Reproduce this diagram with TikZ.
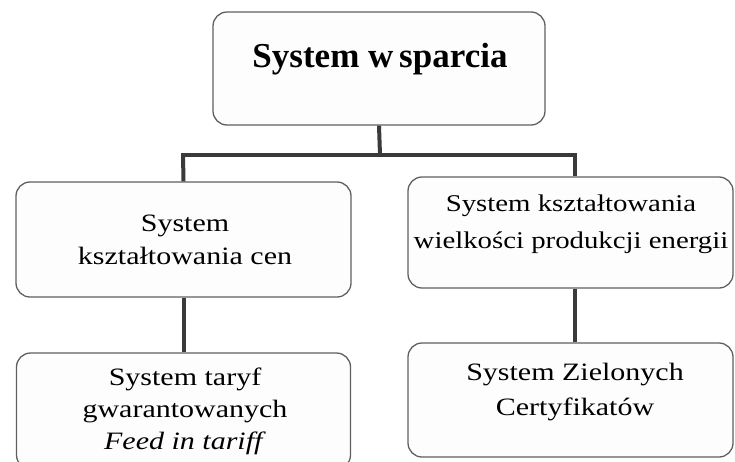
\documentclass[tikz,border=0pt]{standalone}
\usepackage{fontspec}
\setmainfont{Liberation Serif}[FakeStretch=1.2]
\newfontfamily\titlefont{Liberation Serif}
\definecolor{boxline}{HTML}{606060}
\definecolor{boxfill}{HTML}{FDFDFD}
\definecolor{linkc}{HTML}{3A3A3A}
\begin{document}
\begin{tikzpicture}[x=1pt,y=-1pt,
  box/.style={draw=boxline, fill=boxfill, line width=1.3pt, rounded corners=14pt, inner sep=0pt},
  txt/.style={inner sep=0pt, align=center, anchor=north, text=black},
  link/.style={draw=linkc, line width=4pt}]
\useasboundingbox (0,0) rectangle (735,461);
\clip (0,0) rectangle (735,461);
\coordinate (j) at (380,155);
\coordinate (jl) at (183,155);
\coordinate (jr) at (575,155);
% boxes
\node[box, minimum width=332pt, minimum height=113pt] (top) at (379,68.5) {};
\node[box, minimum width=335pt, minimum height=115pt] (lm) at (183.5,239.5) {};
\node[box, minimum width=325pt, minimum height=111pt] (rm) at (570.5,232.5) {};
\node[box, minimum width=334pt, minimum height=116pt] (lb) at (183.5,411) {};
\node[box, minimum width=325pt, minimum height=114pt] (rb) at (570.5,400) {};
% links
\draw[link] (top.south) -- (j);
\draw[link, line cap=rect] (jl) -- (jr);
\draw[link] (jl) -- (lm.north);
\draw[link] (jr) -- (jr |- rm.north);
\draw[link] (lm.south) -- (lb.north);
\draw[link] (jr |- rm.south) -- (jr |- rb.north);
% texts
\node[inner sep=0pt, anchor=base, font=\titlefont\bfseries\fontsize{35}{40}\selectfont] (ttop) at (380,67) {System w\,sparcia};
\node[txt, font=\fontsize{25}{33}\selectfont] (tlm) at (185,214.7) {System\\kształtowania cen};
\node[txt, font=\fontsize{24}{37}\selectfont] (trm) at (571,194.5) {System kształtowania\\wielkości produkcji energii};
\node[txt, font=\fontsize{25}{32}\selectfont] (tlb) at (185,367.7) {System taryf\\gwarantowanych\\\textit{Feed in tariff}};
\node[txt, font=\fontsize{25}{35}\selectfont] (trb) at (575,362.7) {System Zielonych\\Certyfikatów};
\end{tikzpicture}
\end{document}
